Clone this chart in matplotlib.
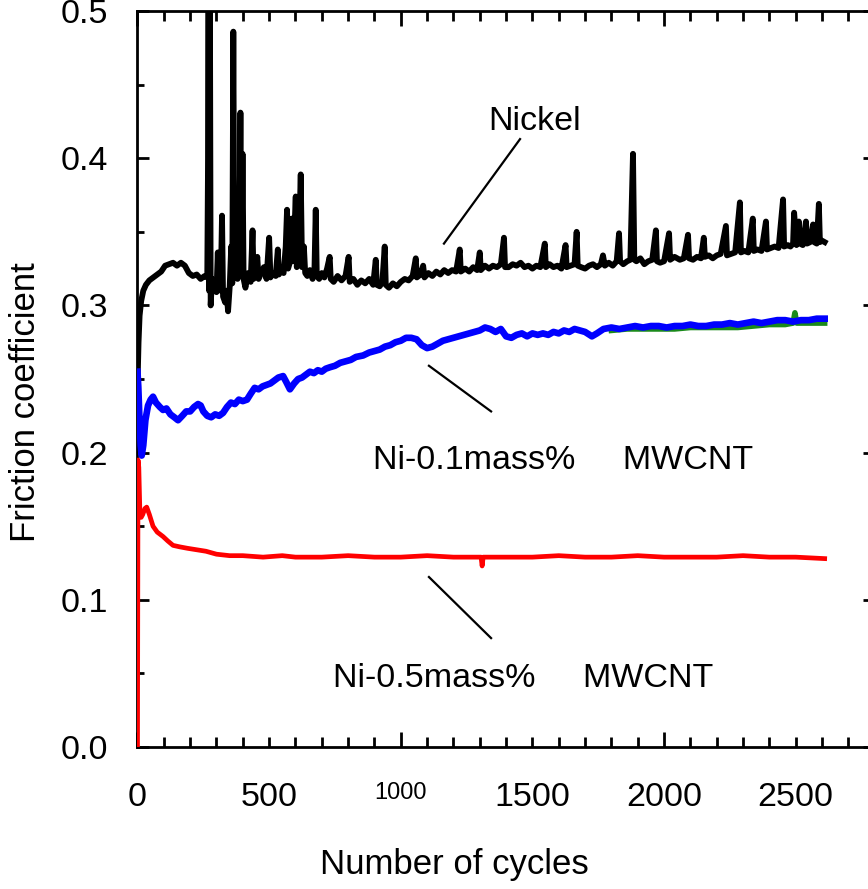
import matplotlib
matplotlib.use("Agg")
import matplotlib.pyplot as plt
import numpy as np

plt.rcParams['font.family'] = ['Liberation Sans', 'DejaVu Sans']

# ---------------- data ----------------
nickel_cycles = [0, 4, 8, 14, 22, 32, 45, 60, 75, 90, 105, 120, 135, 150, 165, 180, 195, 210, 225, 240,
                 255, 265, 268, 270, 272, 275, 278, 283, 292, 300, 305, 308, 316, 321, 325, 333, 338, 344,
                 350, 356, 360, 364, 368, 372, 376, 380, 386, 391, 395, 399, 403, 410, 420, 430, 437, 441,
                 448, 455, 460, 470, 480, 490, 500, 505, 515, 525, 533, 537, 545, 555, 563, 568, 572, 580,
                 586, 590, 596, 601, 605, 612, 620, 625, 632, 637, 645, 655, 665, 672, 677, 681, 690, 700,
                 710, 720, 730, 734, 745, 760, 775, 790, 802, 806, 820, 835, 850, 865, 880, 895, 905, 909,
                 920, 930, 939, 943, 955, 970, 985, 1000, 1015, 1030, 1045, 1057, 1061, 1075, 1085, 1090,
                 1105, 1120, 1135, 1150, 1165, 1180, 1195, 1210, 1224, 1228, 1245, 1260, 1275, 1290, 1300,
                 1304, 1320, 1335, 1350, 1365, 1380, 1392, 1396, 1410, 1425, 1440, 1455, 1470, 1485, 1500,
                 1515, 1530, 1547, 1551, 1565, 1580, 1595, 1610, 1626, 1630, 1645, 1660, 1668, 1672, 1685,
                 1700, 1715, 1730, 1745, 1760, 1768, 1775, 1790, 1805, 1820, 1829, 1833, 1845, 1860, 1872,
                 1882, 1887, 1895, 1910, 1925, 1940, 1955, 1969, 1973, 1985, 2000, 2019, 2023, 2040, 2060,
                 2075, 2091, 2095, 2110, 2125, 2140, 2151, 2155, 2170, 2185, 2200, 2215, 2235, 2239, 2255,
                 2270, 2288, 2292, 2305, 2320, 2337, 2341, 2355, 2370, 2387, 2391, 2405, 2420, 2435, 2452,
                 2456, 2470, 2480, 2490, 2494, 2503, 2512, 2516, 2527, 2539, 2543, 2555, 2566, 2570, 2580,
                 2588, 2592, 2600, 2610]
nickel_cof = [0.245, 0.275, 0.293, 0.303, 0.310, 0.314, 0.317, 0.319, 0.321, 0.323, 0.327, 0.328, 0.329,
              0.327, 0.329, 0.327, 0.322, 0.320, 0.321, 0.318, 0.320, 0.319, 0.400, 0.520, 0.310, 0.520,
              0.300, 0.318, 0.315, 0.309, 0.336, 0.312, 0.310, 0.361, 0.306, 0.302, 0.310, 0.296, 0.312,
              0.340, 0.315, 0.486, 0.320, 0.330, 0.322, 0.318, 0.322, 0.431, 0.320, 0.403, 0.318, 0.312,
              0.322, 0.316, 0.351, 0.318, 0.320, 0.333, 0.318, 0.322, 0.326, 0.318, 0.346, 0.319, 0.322,
              0.320, 0.338, 0.321, 0.324, 0.322, 0.340, 0.365, 0.325, 0.330, 0.359, 0.330, 0.350, 0.374,
              0.326, 0.335, 0.389, 0.326, 0.340, 0.322, 0.320, 0.324, 0.318, 0.323, 0.365, 0.320, 0.318,
              0.322, 0.319, 0.325, 0.333, 0.318, 0.316, 0.320, 0.317, 0.320, 0.333, 0.316, 0.318, 0.314,
              0.317, 0.315, 0.318, 0.314, 0.331, 0.314, 0.313, 0.316, 0.340, 0.314, 0.312, 0.315, 0.313,
              0.316, 0.318, 0.317, 0.320, 0.332, 0.319, 0.321, 0.327, 0.319, 0.322, 0.320, 0.323, 0.321,
              0.324, 0.322, 0.324, 0.323, 0.338, 0.323, 0.325, 0.323, 0.326, 0.324, 0.336, 0.324, 0.327,
              0.325, 0.327, 0.326, 0.328, 0.346, 0.326, 0.326, 0.328, 0.327, 0.329, 0.326, 0.327, 0.325,
              0.327, 0.326, 0.342, 0.326, 0.328, 0.326, 0.327, 0.325, 0.341, 0.326, 0.327, 0.328, 0.350,
              0.327, 0.326, 0.325, 0.327, 0.328, 0.326, 0.328, 0.334, 0.327, 0.329, 0.327, 0.330, 0.349,
              0.330, 0.328, 0.330, 0.331, 0.403, 0.331, 0.330, 0.332, 0.328, 0.330, 0.331, 0.351, 0.330,
              0.329, 0.330, 0.349, 0.331, 0.333, 0.331, 0.332, 0.348, 0.332, 0.331, 0.333, 0.332, 0.346,
              0.333, 0.334, 0.332, 0.334, 0.335, 0.354, 0.334, 0.335, 0.336, 0.370, 0.336, 0.337, 0.336,
              0.359, 0.337, 0.338, 0.337, 0.357, 0.338, 0.339, 0.340, 0.339, 0.372, 0.340, 0.341, 0.340,
              0.342, 0.363, 0.341, 0.357, 0.342, 0.341, 0.357, 0.342, 0.343, 0.355, 0.343, 0.342, 0.369,
              0.343, 0.344, 0.343]

ni01_cycles = [0, 3, 7, 12, 16, 22, 30, 40, 50, 59, 70, 85, 97, 110, 125, 140, 154, 170, 185, 200, 215,
               230, 240, 250, 265, 280, 295, 310, 325, 340, 355, 370, 385, 400, 416, 430, 445, 460, 475,
               490, 505, 520, 535, 553, 565, 579, 595, 610, 625, 640, 655, 670, 685, 700, 715, 731, 750,
               770, 790, 810, 830, 857, 880, 900, 920, 940, 960, 980, 1000, 1020, 1040, 1060, 1080, 1100,
               1120, 1140, 1160, 1180, 1200, 1220, 1240, 1260, 1280, 1300, 1320, 1340, 1360, 1380, 1400,
               1420, 1440, 1460, 1480, 1500, 1520, 1540, 1560, 1580, 1600, 1620, 1640, 1660, 1680, 1700,
               1726, 1745, 1770, 1800, 1830, 1860, 1890, 1920, 1950, 1980, 2010, 2040, 2070, 2100, 2130,
               2160, 2190, 2220, 2250, 2280, 2310, 2340, 2370, 2400, 2430, 2460, 2490, 2520, 2550, 2580,
               2610]
ni01_cof = [0.255, 0.245, 0.225, 0.205, 0.198, 0.205, 0.222, 0.232, 0.236, 0.238, 0.234, 0.231, 0.229,
            0.230, 0.226, 0.224, 0.222, 0.225, 0.228, 0.228, 0.231, 0.233, 0.232, 0.228, 0.225, 0.224,
            0.226, 0.225, 0.227, 0.231, 0.234, 0.233, 0.236, 0.235, 0.236, 0.240, 0.244, 0.243, 0.245,
            0.246, 0.247, 0.249, 0.251, 0.252, 0.248, 0.243, 0.247, 0.250, 0.251, 0.253, 0.255, 0.254,
            0.256, 0.255, 0.257, 0.258, 0.259, 0.261, 0.262, 0.263, 0.265, 0.266, 0.268, 0.269, 0.270,
            0.272, 0.273, 0.275, 0.276, 0.278, 0.278, 0.277, 0.273, 0.271, 0.272, 0.274, 0.276, 0.277,
            0.278, 0.279, 0.280, 0.281, 0.282, 0.283, 0.285, 0.284, 0.282, 0.284, 0.279, 0.278, 0.280,
            0.281, 0.279, 0.281, 0.280, 0.281, 0.280, 0.282, 0.281, 0.283, 0.282, 0.284, 0.283, 0.282,
            0.279, 0.281, 0.284, 0.285, 0.284, 0.285, 0.286, 0.285, 0.286, 0.286, 0.285, 0.286, 0.286,
            0.287, 0.286, 0.286, 0.287, 0.287, 0.288, 0.287, 0.288, 0.289, 0.288, 0.289, 0.290, 0.290,
            0.289, 0.290, 0.290, 0.291, 0.291]

green_cycles = [1800, 1860, 1920, 1980, 2040, 2100, 2160, 2220, 2280, 2340, 2400, 2460, 2490, 2497, 2504,
                2550, 2610]
green_cof = [0.283, 0.284, 0.284, 0.284, 0.284, 0.285, 0.285, 0.285, 0.285, 0.286, 0.287, 0.287, 0.288,
             0.295, 0.288, 0.288, 0.288]

ni05_cycles = [0, 2, 5, 9, 14, 20, 28, 35, 45, 59, 75, 97, 115, 135, 160, 190, 225, 260, 300, 350, 400,
               477, 550, 600, 700, 800, 900, 1000, 1100, 1200, 1305, 1309, 1313, 1400, 1500, 1600, 1700,
               1800, 1900, 2000, 2100, 2200, 2300, 2400, 2500, 2610]
ni05_cof = [0.0, 0.195, 0.190, 0.160, 0.156, 0.158, 0.162, 0.163, 0.158, 0.150, 0.146, 0.143, 0.140,
            0.137, 0.136, 0.135, 0.134, 0.133, 0.131, 0.130, 0.130, 0.129, 0.130, 0.129, 0.129, 0.130,
            0.129, 0.129, 0.130, 0.129, 0.129, 0.123, 0.129, 0.129, 0.129, 0.130, 0.129, 0.129, 0.130,
            0.129, 0.129, 0.129, 0.130, 0.129, 0.129, 0.128]

x_label_pos = [0, 500, 1000, 1500, 2000, 2500]
x_label_txt = ['0', '500', '1000', '1500', '2000', '2500']
y_ticks = [0.0, 0.1, 0.2, 0.3, 0.4, 0.5]
y_tick_txt = ['0.0', '0.1', '0.2', '0.3', '0.4', '0.5']

# ---------------- figure ----------------
fig = plt.figure(figsize=(8.68, 8.89), dpi=100)
ax = fig.add_axes([0.1584, 0.1597, 0.8493, 0.8279])

ax.plot(nickel_cycles, nickel_cof, color='black', lw=4.2, solid_joinstyle='round', zorder=3)
ax.plot(green_cycles, green_cof, color='#1a8a1a', lw=4.0, zorder=3)
ax.plot(ni01_cycles, ni01_cof, color='#0000ff', lw=4.8, solid_joinstyle='round', zorder=4)
ax.plot(ni05_cycles, ni05_cof, color='#ff0000', lw=3.4, solid_joinstyle='round', zorder=4)

ax.set_xlim(0, 2800)
ax.set_ylim(0, 0.5)

for s in ax.spines.values():
    s.set_linewidth(2)

# x ticks: long at 0/1000/2000, short elsewhere, labels every 500
major_x = [v for v in x_label_pos if v % 1000 == 0]
ax.set_xticks(major_x, [t for v, t in zip(x_label_pos, x_label_txt) if v % 1000 == 0])
minor_x = [v for v in range(0, 2801, 100) if v % 1000 != 0]
minor_lbl = [x_label_txt[x_label_pos.index(v)] if v in x_label_pos else '' for v in minor_x]
ax.set_xticks(minor_x, minor_lbl, minor=True)

ax.set_yticks(y_ticks, y_tick_txt)
ax.set_yticks(np.arange(0.05, 0.5, 0.1), minor=True)

ax.tick_params(axis='x', which='both', direction='in', top=True, width=2, labelsize=24.5, pad=25)
ax.tick_params(axis='x', which='major', length=11)
ax.tick_params(axis='x', which='minor', length=7)
ax.tick_params(axis='y', which='both', direction='in', right=True, width=2, labelsize=24.5, pad=21)
ax.tick_params(axis='y', which='major', length=8.5)
ax.tick_params(axis='y', which='minor', length=5)

for lbl in ax.get_xticklabels():
    if lbl.get_text() == '1000':
        lbl.set_fontsize(17)

fig.text(0.524, 0.027, 'Number of cycles', fontsize=25, ha='center', va='center')
fig.text(0.029, 0.548, 'Friction coefficient', fontsize=25, ha='center', va='center', rotation=90)

# annotations
ax.text(1331, 0.419, 'Nickel', fontsize=24.5, ha='left', va='baseline')
ax.plot([1453, 1164], [0.413, 0.342], color='black', lw=1.6)
ax.text(894, 0.189, 'Ni-0.1mass%     MWCNT', fontsize=24.5, ha='left', va='baseline')
ax.plot([1107, 1343], [0.259, 0.228], color='black', lw=1.6)
ax.text(742, 0.0408, 'Ni-0.5mass%     MWCNT', fontsize=24.5, ha='left', va='baseline')
ax.plot([1107, 1343], [0.1155, 0.074], color='black', lw=1.6)

fig.savefig('out.png', dpi=100)
